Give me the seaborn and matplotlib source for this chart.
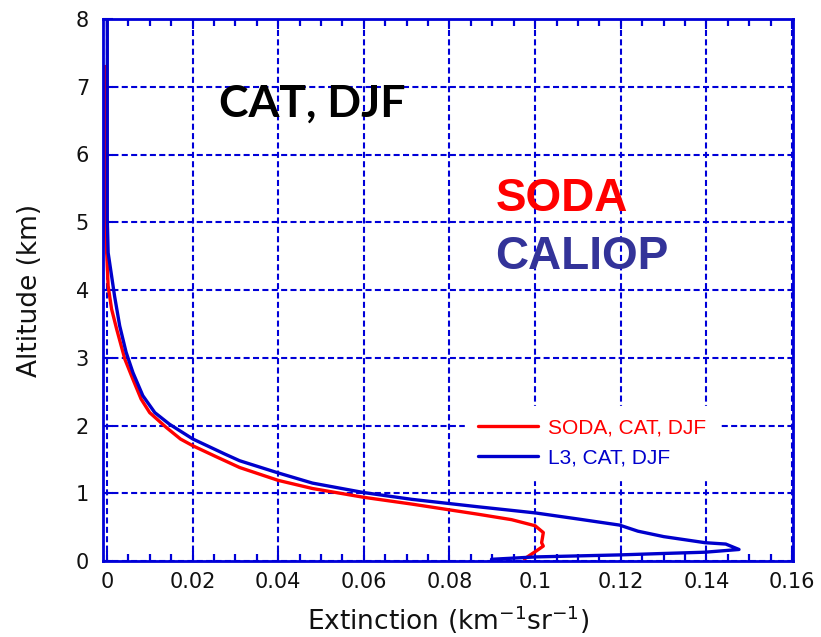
import matplotlib
matplotlib.use("Agg")
import matplotlib.pyplot as plt
import seaborn as sns
import numpy as np
import pandas as pd
from matplotlib.ticker import MultipleLocator, FixedLocator, NullLocator

# ---- data ----
soda_alt = [0.03, 0.07, 0.15, 0.22, 0.27, 0.34, 0.42, 0.52, 0.61, 0.69, 0.78, 0.84, 0.94,
            1.07, 1.19, 1.38, 1.54, 1.70, 1.80, 1.97, 2.19, 2.39, 2.68, 2.98, 3.42, 3.72,
            4.06, 4.5, 4.9, 5.5, 6.3, 7.3]
soda_ext = [0.0975, 0.0984, 0.1003, 0.1019, 0.1015, 0.1017, 0.1019, 0.1000, 0.0945, 0.0867,
            0.0774, 0.0712, 0.060, 0.048, 0.040, 0.031, 0.0255, 0.0201, 0.0172, 0.0139,
            0.010, 0.008, 0.0061, 0.0042, 0.0023, 0.0011, 0.0003, 0.0, -0.0004, -0.0004,
            -0.0004, -0.0004]

l3_alt = [0.025, 0.06, 0.09, 0.11, 0.13, 0.17, 0.25, 0.27, 0.36, 0.44, 0.53, 0.62, 0.71,
          0.80, 0.91, 1.01, 1.15, 1.30, 1.48, 1.58, 1.80, 2.02, 2.19, 2.44, 2.78, 3.08,
          3.47, 3.91, 4.21, 4.55, 5.04, 6.0, 7.0, 8.0]
l3_ext = [0.0898, 0.100, 0.1197, 0.1294, 0.1397, 0.1476, 0.1445, 0.1397, 0.130, 0.124,
          0.1197, 0.110, 0.100, 0.0867, 0.0712, 0.060, 0.048, 0.040, 0.031, 0.0275, 0.0201,
          0.0146, 0.0112, 0.0084, 0.0061, 0.0045, 0.003, 0.0018, 0.0011, 0.0003, 0.0001,
          0.0001, 0.0001, 0.0001]

series_names = ["SODA, CAT, DJF", "L3, CAT, DJF"]
x_ticks = [0, 0.02, 0.04, 0.06, 0.08, 0.1, 0.12, 0.14, 0.16]
x_ticklabels = ["0", "0.02", "0.04", "0.06", "0.08", "0.1", "0.12", "0.14", "0.16"]
x_minor_step = 0.005
y_ticks = [0, 1, 2, 3, 4, 5, 6, 7, 8]

# ---- style ----
sns.set_style("white")
BLUE = "#0000d8"
plt.rcParams.update({
    "font.family": ["DejaVu Sans"],
    "mathtext.fontset": "custom",
    "mathtext.rm": "DejaVu Sans",
    "axes.axisbelow": "line",
    "xtick.bottom": True, "xtick.top": True, "xtick.direction": "in",
    "ytick.left": True, "ytick.right": False, "ytick.direction": "in",
    "xtick.major.size": 7, "xtick.minor.size": 5,
    "xtick.major.width": 1.5, "xtick.minor.width": 1.6,
    "ytick.major.size": 7, "ytick.major.width": 1.5,
    "xtick.color": BLUE, "ytick.color": BLUE,
})

df = pd.DataFrame({
    "ext": soda_ext + l3_ext,
    "alt": soda_alt + l3_alt,
    "series": [series_names[0]] * len(soda_ext) + [series_names[1]] * len(l3_ext),
})

fig = plt.figure(figsize=(8.21, 6.37), dpi=100)
ax = fig.add_axes([103 / 821, 1 - 561 / 637, 690 / 821, 542 / 637])

sns.lineplot(data=df, x="ext", y="alt", hue="series", sort=False, estimator=None,
             palette={series_names[0]: "#ff0000", series_names[1]: "#0000cc"},
             linewidth=2.4, ax=ax)

ax.set_xlim(-0.0009, 0.1602)
ax.set_ylim(0, 8)
ax.xaxis.set_major_locator(FixedLocator(x_ticks))
ax.set_xticklabels(x_ticklabels)
ax.xaxis.set_minor_locator(MultipleLocator(x_minor_step))
ax.yaxis.set_major_locator(FixedLocator(y_ticks))
ax.yaxis.set_minor_locator(NullLocator())

ax.grid(True, which="major", color=BLUE, linestyle=(0, (2.9, 1.6)), linewidth=1.5)
for s in ax.spines.values():
    s.set_color(BLUE)
    s.set_linewidth(2.0)

ax.tick_params(axis="x", which="major", direction="in", top=True, bottom=True,
               length=7, width=1.5, color=BLUE, labelsize=15, labelcolor="#111111", pad=8)
ax.tick_params(axis="x", which="minor", direction="in", top=True, bottom=True,
               length=5, width=1.6, color=BLUE)
ax.xaxis.set_tick_params(which="minor", tick1On=True, tick2On=True)
ax.tick_params(axis="y", which="major", direction="in", left=True, right=False,
               length=7, width=1.5, color=BLUE, labelsize=15, labelcolor="#111111", pad=10)

ax.set_xlabel("Extinction (km$^{\\mathregular{-1}}$sr$^{\\mathregular{-1}}$)", fontsize=19,
              color="#111111", va="center", ha="center")
ax.xaxis.set_label_coords(0.5, (561 - 620) / 542)
ax.set_ylabel("Altitude (km)", fontsize=19, color="#111111", va="center", ha="center")
ax.yaxis.set_label_coords((30 - 103) / 690, 0.5)

ax.text(0.0479, 6.75, "CAT, DJF", fontsize=32, fontweight="bold", family=["Lato", "DejaVu Sans"],
        color="black", ha="center", va="center")
ax.text(0.0907, 5.34, "SODA", fontsize=33, fontweight="bold", family=["Liberation Sans"],
        color="#ff0000", ha="left", va="center")
ax.text(0.0907, 4.49, "CALIOP", fontsize=33, fontweight="bold", family=["Liberation Sans"],
        color="#333399", ha="left", va="center")

leg = ax.legend(loc="center left", bbox_to_anchor=(0.51, 0.218), frameon=True,
                fancybox=False, framealpha=1, edgecolor="white", facecolor="white",
                handlelength=2.9, handletextpad=0.45, labelspacing=0.55,
                prop={"family": "Liberation Sans", "size": 15}, labelcolor="linecolor",
                borderpad=0.6, title=None)
for line in leg.get_lines():
    line.set_linewidth(2.4)

fig.savefig("out.png", dpi=100)
